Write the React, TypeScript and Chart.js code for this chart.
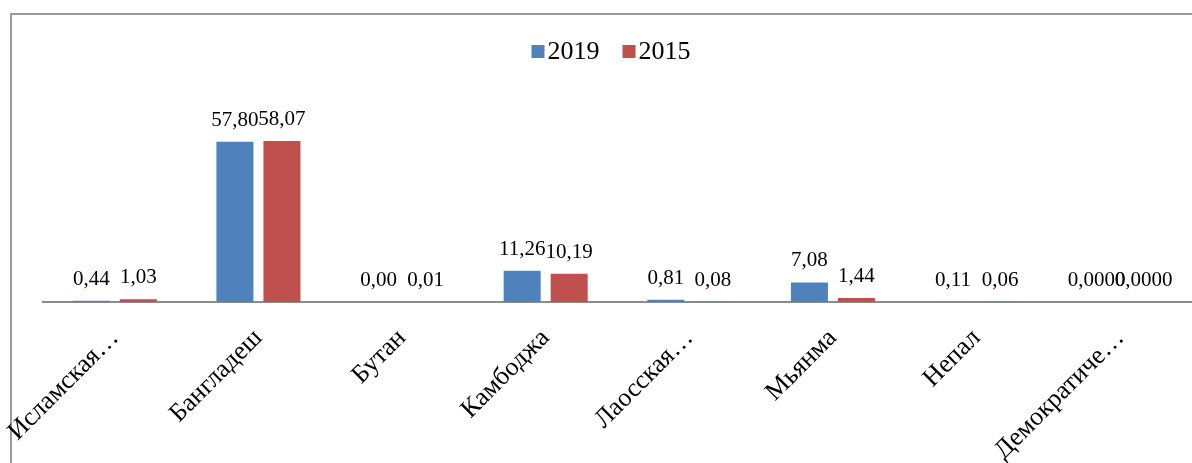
import React, { useEffect, useRef } from "react";
import { Chart, registerables } from "chart.js";

Chart.register(...registerables);

const categories = [
  "Исламская…",
  "Бангладеш",
  "Бутан",
  "Камбоджа",
  "Лаосская…",
  "Мьянма",
  "Непал",
  "Демократиче…",
];
const values2019 = [0.44, 57.8, 0.0, 11.26, 0.81, 7.08, 0.11, 0.0];
const values2015 = [1.03, 58.07, 0.01, 10.19, 0.08, 1.44, 0.06, 0.0];
const labelDecimals = [2, 2, 2, 2, 2, 2, 2, 4];
const seriesNames = ["2019", "2015"];
const seriesColors = ["#4F81BD", "#C0504D"];
const yMin = 0;
const yMax = 70;

const FONT = '"Liberation Serif", "Times New Roman", serif';

const dataLabelPlugin = {
  id: "dataLabels",
  afterDatasetsDraw(chart: any) {
    const ctx = chart.ctx;
    ctx.save();
    ctx.font = `21px ${FONT}`;
    ctx.fillStyle = "#000";
    ctx.textAlign = "center";
    ctx.textBaseline = "alphabetic";
    chart.data.datasets.forEach((ds: any, di: number) => {
      const meta = chart.getDatasetMeta(di);
      meta.data.forEach((el: any, i: number) => {
        const v = ds.data[i] as number;
        const txt = v.toFixed(labelDecimals[i]).replace(".", ",");
        ctx.fillText(txt, el.x, el.y - 16);
      });
    });
    ctx.restore();
  },
};

const legendPlugin = {
  id: "customLegend",
  afterDraw(chart: any) {
    const ctx = chart.ctx;
    ctx.save();
    ctx.font = `26px ${FONT}`;
    ctx.textBaseline = "alphabetic";
    ctx.textAlign = "left";
    const box = 13;
    const gapBoxText = 3;
    const gapItems = 23;
    const items = chart.data.datasets.map((ds: any) => ({
      label: ds.label,
      color: ds.backgroundColor,
      w: box + gapBoxText + ctx.measureText(ds.label).width,
    }));
    const total =
      items.reduce((s: number, it: any) => s + it.w, 0) + gapItems * (items.length - 1);
    const centerX = 611;
    let x = centerX - total / 2;
    const baseline = 59;
    items.forEach((it: any) => {
      ctx.fillStyle = it.color;
      ctx.fillRect(x, 45, box, box);
      ctx.fillStyle = "#000";
      ctx.fillText(it.label, x + box + gapBoxText, baseline);
      x += it.w + gapItems;
    });
    ctx.restore();
  },
};

export default function App() {
  const canvasRef = useRef<HTMLCanvasElement | null>(null);

  useEffect(() => {
    if (!canvasRef.current) return;
    const chart = new Chart(canvasRef.current, {
      type: "bar",
      data: {
        labels: categories,
        datasets: [
          {
            label: seriesNames[0],
            data: values2019,
            backgroundColor: seriesColors[0],
            borderWidth: 0,
            barPercentage: 0.787,
            categoryPercentage: 0.655,
          },
          {
            label: seriesNames[1],
            data: values2015,
            backgroundColor: seriesColors[1],
            borderWidth: 0,
            barPercentage: 0.787,
            categoryPercentage: 0.655,
          },
        ],
      },
      options: {
        responsive: false,
        animation: false,
        devicePixelRatio: 1,
        layout: { padding: { left: 43, right: 0, top: 108, bottom: 0 } },
        plugins: {
          legend: { display: false },
          tooltip: { enabled: false },
        },
        scales: {
          x: {
            grid: { display: false },
            border: { display: true, color: "#8c8c8c", width: 2 },
            ticks: {
              color: "#000",
              font: { family: FONT, size: 26 },
              minRotation: 45,
              maxRotation: 45,
              autoSkip: false,
              padding: 13,
            },
            afterFit: (scale: any) => {
              scale.height = 161;
              scale.paddingLeft = 0;
              scale.paddingRight = 0;
            },
          },
          y: {
            display: false,
            min: yMin,
            max: yMax,
          },
        },
      },
      plugins: [dataLabelPlugin, legendPlugin],
    });
    return () => chart.destroy();
  }, []);

  return (
    <div style={{ position: "absolute", left: 0, top: 0, width: 1192, height: 463, background: "#fff", overflow: "hidden" }}>
      <div
        style={{
          position: "absolute",
          left: 10,
          top: 13,
          width: 1300,
          height: 600,
          borderLeft: "2px solid #9a9a9a",
          borderTop: "2px solid #9a9a9a",
        }}
      />
      <canvas ref={canvasRef} width={1192} height={463} style={{ position: "absolute", left: 0, top: 0 }} />
    </div>
  );
}
